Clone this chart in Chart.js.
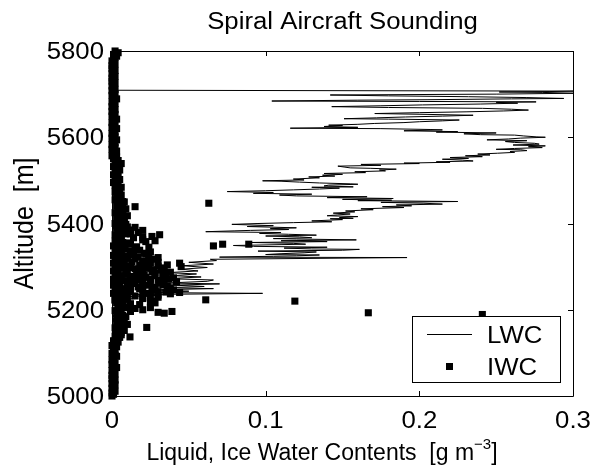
<!DOCTYPE html>
<html><head><meta charset="utf-8">
<script src="https://cdn.jsdelivr.net/npm/chart.js@4"></script>
<style>html,body{margin:0;padding:0;background:#fff}#wrap{width:603px;height:475px;position:relative}</style>
</head><body><div id="wrap"><canvas id="c" width="603" height="475"></canvas></div>
<script>
const titleText = "Spiral Aircraft Sounding";
const xAxisTitle = "Liquid, Ice Water Contents  [g m";
const xAxisSup = "\u22123";
const xAxisEnd = "]";
const yAxisTitle = "Altitude  [m]";
const xTicks = [0, 0.1, 0.2, 0.3];
const xTickLabels = ["0", "0.1", "0.2", "0.3"];
const yTicks = [5000, 5200, 5400, 5600, 5800];
const yTickLabels = ["5000", "5200", "5400", "5600", "5800"];
const legendLabels = ["LWC", "IWC"];

const lwcAlt = [
  5000,5015,5030,5045,5060,5075,5090,5105,5120,5135,
  5150,5160,5170,5180,5190,5198,5205,5211,5216,5221,
  5226,5230,5233,5235,5238,5240,5243,5246,5249,5251,
  5254,5257,5260,5262,5266,5269,5272,5276,5279,5283,
  5286,5290,5294,5298,5302,5306,5310,5314,5317,5321,
  5322,5324,5325,5327,5328,5330,5332,5334,5336,5338,
  5340,5341,5343,5345,5347,5349,5351,5352,5354,5356,
  5358,5360,5362,5364,5365,5367,5369,5371,5373,5375,
  5377,5379,5381,5383,5384,5386,5388,5390,5393,5395,
  5398,5400,5402,5404,5406,5409,5411,5412,5414,5416,
  5418,5420,5422,5424,5427,5429,5432,5434,5437,5439,
  5441,5443,5445,5447,5449,5451,5453,5454,5456,5458,
  5460,5462,5464,5466,5468,5470,5472,5474,5476,5478,
  5480,5482,5484,5485,5487,5489,5491,5492,5494,5496,
  5498,5499,5501,5503,5506,5508,5510,5512,5514,5516,
  5518,5520,5522,5524,5526,5528,5529,5531,5533,5535,
  5537,5539,5540,5542,5543,5545,5547,5549,5551,5553,
  5555,5557,5559,5561,5563,5565,5567,5569,5571,5572,
  5574,5576,5578,5580,5582,5584,5586,5588,5590,5592,
  5594,5596,5598,5600,5601,5603,5605,5606,5608,5610,
  5612,5613,5615,5617,5618,5620,5621,5623,5625,5627,
  5628,5630,5632,5634,5636,5638,5640,5642,5643,5645,
  5647,5649,5651,5653,5655,5657,5659,5661,5663,5665,
  5667,5669,5671,5673,5675,5677,5679,5681,5682,5683,
  5684,5686,5687,5689,5690,5692,5694,5696,5698,5700,
  5702,5704,5705,5706,5707,5709,5720,5735,5750,5765,
  5780,5790,5800
];
const lwcVal = [
  0.000,0.001,0.000,0.002,0.000,0.001,0.000,0.002,0.001,0.000,
  0.002,0.001,0.003,0.001,0.004,0.002,0.006,0.003,0.010,0.004,
  0.015,0.006,0.030,0.012,0.098,0.018,0.050,0.025,0.066,0.035,
  0.060,0.040,0.070,0.036,0.062,0.066,0.036,0.058,0.040,0.055,
  0.036,0.056,0.045,0.062,0.046,0.066,0.050,0.068,0.064,0.192,
  0.070,0.105,0.120,0.135,0.100,0.110,0.125,0.133,0.095,0.150,
  0.161,0.130,0.112,0.140,0.092,0.079,0.110,0.126,0.118,0.090,
  0.140,0.110,0.159,0.120,0.105,0.130,0.122,0.100,0.133,0.115,
  0.096,0.110,0.061,0.080,0.090,0.115,0.103,0.120,0.088,0.105,
  0.078,0.095,0.118,0.143,0.130,0.150,0.142,0.157,0.148,0.160,
  0.140,0.147,0.155,0.144,0.158,0.152,0.170,0.162,0.190,0.176,
  0.195,0.185,0.215,0.203,0.175,0.225,0.160,0.182,0.150,0.183,
  0.140,0.166,0.120,0.109,0.130,0.092,0.105,0.075,0.100,0.118,
  0.135,0.148,0.130,0.157,0.138,0.141,0.160,0.155,0.135,0.122,
  0.110,0.098,0.125,0.118,0.135,0.128,0.145,0.137,0.150,0.138,
  0.165,0.158,0.178,0.174,0.185,0.168,0.155,0.151,0.147,0.175,
  0.162,0.200,0.190,0.220,0.211,0.235,0.228,0.215,0.232,0.220,
  0.241,0.230,0.246,0.238,0.251,0.262,0.259,0.270,0.266,0.250,
  0.262,0.280,0.271,0.282,0.261,0.278,0.275,0.262,0.256,0.270,
  0.244,0.258,0.266,0.282,0.276,0.268,0.262,0.240,0.229,0.250,
  0.211,0.225,0.190,0.215,0.207,0.175,0.116,0.160,0.138,0.150,
  0.141,0.160,0.171,0.190,0.200,0.215,0.226,0.180,0.151,0.172,
  0.191,0.215,0.235,0.205,0.171,0.200,0.231,0.255,0.271,0.260,
  0.241,0.180,0.143,0.175,0.202,0.240,0.264,0.250,0.276,0.200,
  0.104,0.160,0.205,0.260,0.294,0.270,0.232,0.180,0.142,0.250,
  0.300,0.280,0.252,0.285,0.300,0.000,0.001,0.000,0.002,0.000,
  0.001,0.003,0.000
];

// IWC: near-zero samples along the whole profile
const iwcBaseAlt = [
  5000,5004,5007,5011,5015,5018,5022,5026,5029,5033,
  5037,5040,5044,5048,5051,5055,5059,5062,5066,5070,
  5073,5077,5081,5084,5088,5092,5095,5099,5103,5106,
  5110,5114,5117,5121,5125,5128,5132,5136,5139,5143,
  5147,5150,5154,5158,5161,5165,5169,5172,5176,5180,
  5183,5187,5191,5194,5198,5202,5205,5209,5213,5216,
  5220,5224,5227,5231,5235,5238,5242,5246,5249,5253,
  5257,5260,5264,5268,5271,5275,5279,5282,5286,5290,
  5293,5297,5301,5304,5308,5312,5315,5319,5323,5326,
  5330,5334,5337,5341,5345,5348,5352,5356,5359,5363,
  5367,5370,5374,5378,5381,5385,5389,5392,5396,5400,
  5403,5407,5411,5414,5418,5422,5425,5429,5433,5436,
  5440,5444,5447,5451,5455,5458,5462,5466,5469,5473,
  5477,5480,5484,5488,5491,5495,5499,5502,5506,5510,
  5513,5517,5521,5524,5528,5532,5535,5539,5543,5546,
  5550,5554,5557,5561,5565,5568,5572,5576,5579,5583,
  5587,5590,5594,5598,5601,5605,5609,5612,5616,5620,
  5623,5627,5631,5634,5638,5642,5645,5649,5653,5656,
  5660,5664,5667,5671,5675,5678,5682,5686,5689,5693,
  5697,5700,5704,5708,5711,5715,5719,5722,5726,5730,
  5733,5737,5741,5744,5748,5752,5755,5759,5763,5766,
  5770,5774,5777,5781,5785,5788,5792,5796,5800
];
const iwcBaseVal = [
  0.000,0.001,0.000,0.002,0.001,0.000,0.001,0.002,0.000,0.001,
  0.002,0.000,0.001,0.000,0.002,0.001,0.000,0.001,0.003,0.001,
  0.000,0.002,0.001,0.000,0.001,0.003,0.002,0.000,0.001,0.002,
  0.001,0.003,0.000,0.002,0.004,0.001,0.003,0.005,0.002,0.004,
  0.006,0.003,0.005,0.002,0.007,0.004,0.006,0.003,0.008,0.005,
  0.004,0.007,0.003,0.006,0.002,0.005,0.009,0.004,0.007,0.003,
  0.006,0.002,0.005,0.003,0.007,0.001,0.004,0.002,0.006,0.003,
  0.001,0.005,0.002,0.004,0.001,0.003,0.006,0.002,0.004,0.001,
  0.003,0.005,0.002,0.004,0.001,0.006,0.003,0.002,0.005,0.001,
  0.004,0.002,0.006,0.003,0.005,0.001,0.004,0.007,0.002,0.005,
  0.003,0.006,0.002,0.008,0.004,0.006,0.003,0.007,0.005,0.002,
  0.006,0.004,0.008,0.003,0.007,0.005,0.002,0.006,0.004,0.007,
  0.003,0.006,0.004,0.007,0.002,0.005,0.003,0.006,0.004,0.002,
  0.005,0.003,0.006,0.002,0.004,0.001,0.003,0.005,0.002,0.004,
  0.001,0.003,0.002,0.005,0.003,0.001,0.004,0.006,0.002,0.004,
  0.001,0.003,0.000,0.002,0.001,0.003,0.000,0.002,0.001,0.000,
  0.002,0.001,0.003,0.000,0.002,0.001,0.000,0.002,0.001,0.003,
  0.000,0.001,0.002,0.000,0.001,0.003,0.001,0.000,0.002,0.001,
  0.000,0.002,0.001,0.000,0.001,0.002,0.000,0.001,0.003,0.001,
  0.000,0.002,0.001,0.000,0.002,0.001,0.000,0.001,0.002,0.000,
  0.001,0.000,0.002,0.001,0.000,0.001,0.002,0.000,0.001,0.000,
  0.002,0.001,0.000,0.001,0.002,0.003,0.001,0.004,0.002
];

// IWC: samples in and around the cloud-base cluster
const iwcAlt = [
  5136,5137,5142,5148,5152,5159,5160,5166,5170,5175,
  5180,5184,5189,5190,5192,5193,5194,5196,5196,5200,
  5203,5206,5210,5212,5215,5218,5220,5220,5222,5223,
  5225,5228,5230,5232,5234,5236,5238,5240,5241,5243,
  5245,5247,5249,5251,5252,5254,5256,5258,5260,5261,
  5263,5265,5267,5268,5270,5272,5273,5275,5277,5279,
  5281,5283,5284,5286,5288,5290,5292,5294,5296,5298,
  5300,5301,5303,5305,5308,5309,5311,5313,5315,5317,
  5319,5322,5324,5326,5328,5331,5333,5336,5338,5341,
  5344,5346,5348,5350,5352,5352,5355,5358,5362,5364,
  5367,5370,5374,5376,5379,5382,5385,5388,5391,5395,
  5398,5402,5410,5418,5426,5434,5439,5442,5447,5450,
  5233,5237,5239,5242,5244,5246,5248,5250,5253,5255,
  5257,5259,5262,5264,5266,5269,5271,5274,5276,5278,
  5280,5282,5285,5287,5289,5291,5293,5295,5297,5299,
  5302,5304,5306,5310,5312,5314,5318,5321,5325,5329,
  5334,5340,5345,5352,5360,5368,5376,5384,5392,5200,
  5205,5214,5226,5229,5216
];
const iwcVal = [
  0.004,0.0117,0.006,0.003,0.008,0.0226,0.005,0.010,0.004,0.007,
  0.003,0.009,0.241,0.005,0.034,0.1668,0.030,0.039,0.012,0.004,
  0.015,0.008,0.012,0.018,0.005,0.025,0.027,0.119,0.002,0.061,
  0.010,0.020,0.003,0.015,0.030,0.008,0.022,0.044,0.035,0.012,
  0.026,0.004,0.018,0.038,0.028,0.010,0.020,0.033,0.002,0.015,
  0.025,0.042,0.008,0.030,0.018,0.037,0.005,0.022,0.013,0.028,
  0.003,0.035,0.019,0.009,0.026,0.016,0.032,0.004,0.022,0.012,
  0.045,0.030,0.018,0.007,0.044,0.025,0.013,0.020,0.003,0.028,
  0.010,0.017,0.024,0.006,0.014,0.021,0.004,0.012,0.018,0.008,
  0.0085,0.016,0.066,0.003,0.072,0.089,0.011,0.022,0.020,0.006,
  0.014,0.026,0.031,0.009,0.017,0.004,0.012,0.007,0.015,0.003,
  0.009,0.006,0.008,0.010,0.007,0.009,0.015,0.005,0.063,0.008,
  0.025,0.038,0.010,0.030,0.020,0.040,0.012,0.028,0.017,0.036,
  0.024,0.011,0.031,0.020,0.034,0.012,0.025,0.040,0.016,0.033,
  0.021,0.010,0.028,0.038,0.020,0.009,0.027,0.015,0.034,0.024,
  0.010,0.036,0.020,0.030,0.008,0.024,0.015,0.030,0.010,0.022,
  0.025,0.015,0.024,0.012,0.028,0.020,0.012,0.020,0.010,0.020,
  0.025,0.012,0.020,0.030,0.028
];

const lwcData = lwcAlt.map((a, i) => ({ x: lwcVal[i], y: a }));
const iwcData = iwcBaseAlt.map((a, i) => ({ x: iwcBaseVal[i], y: a }))
  .concat(iwcAlt.map((a, i) => ({ x: iwcVal[i], y: a })));

const SX = 1.12;
const FAM = '"Liberation Sans", Arial, Helvetica, sans-serif';
const FONT = '23px ' + FAM;
const XTFONT = '23px ' + FAM;
const SUPFONT = '15px ' + FAM;
const YTFONT = '25px ' + FAM;

function txt(ctx, s, x, y, align, font) {
  ctx.save();
  ctx.translate(x, y);
  ctx.scale(SX, 1);
  ctx.font = font || FONT;
  ctx.fillStyle = '#000';
  ctx.textAlign = align || 'left';
  ctx.textBaseline = 'alphabetic';
  ctx.fillText(s, 0, 0);
  ctx.restore();
}

const frame = {
  id: 'frame',
  afterDraw(chart) {
    const ctx = chart.ctx;
    const a = chart.chartArea;
    const xs = chart.scales.x, ys = chart.scales.y;
    ctx.save();
    ctx.strokeStyle = '#000';
    ctx.lineWidth = 1;
    ctx.beginPath();
    ctx.rect(Math.round(a.left) + 0.5, Math.round(a.top) + 0.5, Math.round(a.right - a.left), Math.round(a.bottom - a.top));
    ctx.stroke();
    const TL = 5;
    ctx.beginPath();
    xTicks.forEach(v => {
      const p = Math.round(xs.getPixelForValue(v)) + 0.5;
      ctx.moveTo(p, a.bottom); ctx.lineTo(p, a.bottom - TL);
      ctx.moveTo(p, a.top); ctx.lineTo(p, a.top + TL);
    });
    yTicks.forEach(v => {
      const p = Math.round(ys.getPixelForValue(v)) + 0.5;
      ctx.moveTo(a.left, p); ctx.lineTo(a.left + TL, p);
      ctx.moveTo(a.right, p); ctx.lineTo(a.right - TL, p);
    });
    ctx.stroke();
    ctx.restore();

    xTicks.forEach((v, i) => txt(ctx, xTickLabels[i], xs.getPixelForValue(v), 428, 'center'));
    yTicks.forEach((v, i) => txt(ctx, yTickLabels[i], 104, ys.getPixelForValue(v) + 8, 'right'));

    txt(ctx, titleText, (a.left + a.right) / 2, 29, 'center');

    // x axis title with superscript
    ctx.save();
    ctx.translate(322, 460);
    ctx.fillStyle = '#000';
    ctx.textBaseline = 'alphabetic';
    ctx.textAlign = 'left';
    ctx.font = XTFONT;
    const w1 = ctx.measureText(xAxisTitle).width;
    const w3 = ctx.measureText(xAxisEnd).width;
    ctx.font = SUPFONT;
    const w2 = ctx.measureText(xAxisSup).width;
    const start = -(w1 + w2 + w3) / 2;
    ctx.font = XTFONT;
    ctx.fillText(xAxisTitle, start, 0);
    ctx.font = SUPFONT;
    ctx.fillText(xAxisSup, start + w1, -11);
    ctx.font = XTFONT;
    ctx.fillText(xAxisEnd, start + w1 + w2, 0);
    ctx.restore();

    // y axis title
    ctx.save();
    ctx.translate(25, (a.top + a.bottom) / 2);
    ctx.rotate(-Math.PI / 2);
    ctx.scale(1, SX);
    ctx.font = YTFONT;
    ctx.fillStyle = '#000';
    ctx.textAlign = 'center';
    ctx.textBaseline = 'middle';
    ctx.fillText(yAxisTitle, 0, 0);
    ctx.restore();

    // legend
    const lx = 412, ly = 316, lw = 148, lh = 66;
    ctx.save();
    ctx.fillStyle = '#fff';
    ctx.fillRect(lx, ly, lw, lh);
    ctx.strokeStyle = '#000';
    ctx.lineWidth = 1;
    ctx.strokeRect(lx + 0.5, ly + 0.5, lw, lh);
    ctx.beginPath();
    ctx.moveTo(427, 334.5); ctx.lineTo(472, 334.5);
    ctx.stroke();
    ctx.fillStyle = '#000';
    ctx.fillRect(446, 363, 7, 7);
    ctx.restore();
    txt(ctx, legendLabels[0], 487, 343, 'left');
    txt(ctx, legendLabels[1], 487, 375, 'left');
  }
};

new Chart(document.getElementById('c'), {
  type: 'scatter',
  data: {
    datasets: [
      {
        label: legendLabels[1],
        data: iwcData,
        pointStyle: 'rect',
        pointRadius: 5,
        pointBackgroundColor: '#000',
        pointBorderColor: '#000',
        pointBorderWidth: 0,
        showLine: false,
        clip: false,
        order: 0
      },
      {
        label: legendLabels[0],
        data: lwcData,
        showLine: true,
        borderColor: '#000',
        borderWidth: 1,
        pointRadius: 0,
        tension: 0,
        fill: false,
        clip: false,
        order: 1
      }
    ]
  },
  options: {
    responsive: false,
    animation: false,
    devicePixelRatio: 1,
    layout: { padding: { top: 51, right: 30, left: 0, bottom: 0 } },
    plugins: { legend: { display: false }, tooltip: { enabled: false }, title: { display: false } },
    scales: {
      x: {
        type: 'linear', min: 0, max: 0.3,
        grid: { display: false, drawTicks: false },
        border: { display: false },
        ticks: { display: false },
        afterFit(s) { s.height = 79; }
      },
      y: {
        type: 'linear', min: 5000, max: 5800,
        grid: { display: false, drawTicks: false },
        border: { display: false },
        ticks: { display: false },
        afterFit(s) { s.width = 112; }
      }
    }
  },
  plugins: [frame]
});
</script>
</body></html>
